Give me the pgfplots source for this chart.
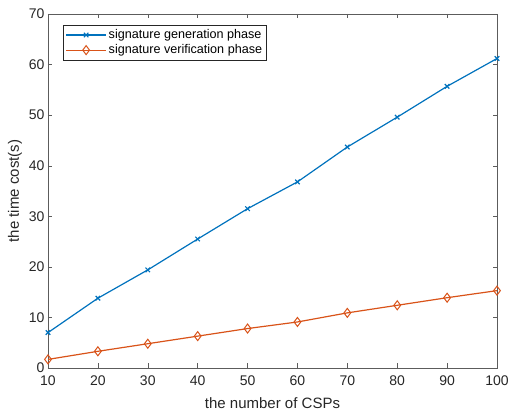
\documentclass[border=0pt]{standalone}
\usepackage{pgfplots}
\pgfplotsset{compat=1.18}
\usepackage{fontspec}
\setmainfont{Liberation Sans}
\definecolor{mblue}{rgb}{0,0.447,0.741}
\definecolor{morange}{rgb}{0.85,0.325,0.098}
\definecolor{maxis}{rgb}{0.15,0.15,0.15}
\begin{document}
\begin{tikzpicture}
\begin{axis}[
  scale only axis,
  width=449pt,height=354pt,
  xmin=10,xmax=100,ymin=0,ymax=70,
  xtick={10,20,...,100},ytick={0,10,...,70},
  tick align=inside,
  major tick length=4.5pt,
  axis line style={draw=maxis!75},
  every tick/.style={draw=maxis!75},
  tick label style={font=\fontsize{14}{16}\selectfont,text=maxis},
  xticklabel style={anchor=center,yshift=-13pt},
  /pgf/number format/assume math mode=true,
  xlabel={the number of CSPs},
  ylabel={the time cost(s)},
  xlabel style={at={(axis description cs:0.5,-0.0989)},anchor=center,font=\fontsize{15}{17}\selectfont,text=maxis},
  ylabel style={at={(axis description cs:-0.0735,0.5)},anchor=center,font=\fontsize{15}{17}\selectfont,text=maxis},
  legend style={at={(0.033,0.969)},anchor=north west,
    font=\fontsize{12.6}{14}\selectfont,draw=maxis,
    row sep=0.5pt,inner sep=2.5pt},
  legend cell align=left,
  legend image code/.code={\draw[mark repeat=2,mark phase=2] plot coordinates {(0pt,0pt) (20pt,0pt) (40pt,0pt)};},
]
\addplot[color=mblue,line width=1.2pt,mark=x,mark size=3.2pt] coordinates {
  (10,7.0) (20,13.8) (30,19.4) (40,25.5) (50,31.5)
  (60,36.8) (70,43.7) (80,49.6) (90,55.7) (100,61.2)
};
\addlegendentry{signature generation phase}
\addplot[color=morange,line width=1.2pt,mark=diamond,mark size=4.5pt,mark options={line width=1pt}] coordinates {
  (10,1.7) (20,3.3) (30,4.8) (40,6.3) (50,7.8)
  (60,9.1) (70,10.9) (80,12.4) (90,13.9) (100,15.3)
};
\addlegendentry{signature verification phase}
\end{axis}
\pgfresetboundingbox
\path ([shift={(-48pt,-43pt)}]current axis.south west) rectangle ([shift={(11pt,14pt)}]current axis.north east);
\end{tikzpicture}
\end{document}
